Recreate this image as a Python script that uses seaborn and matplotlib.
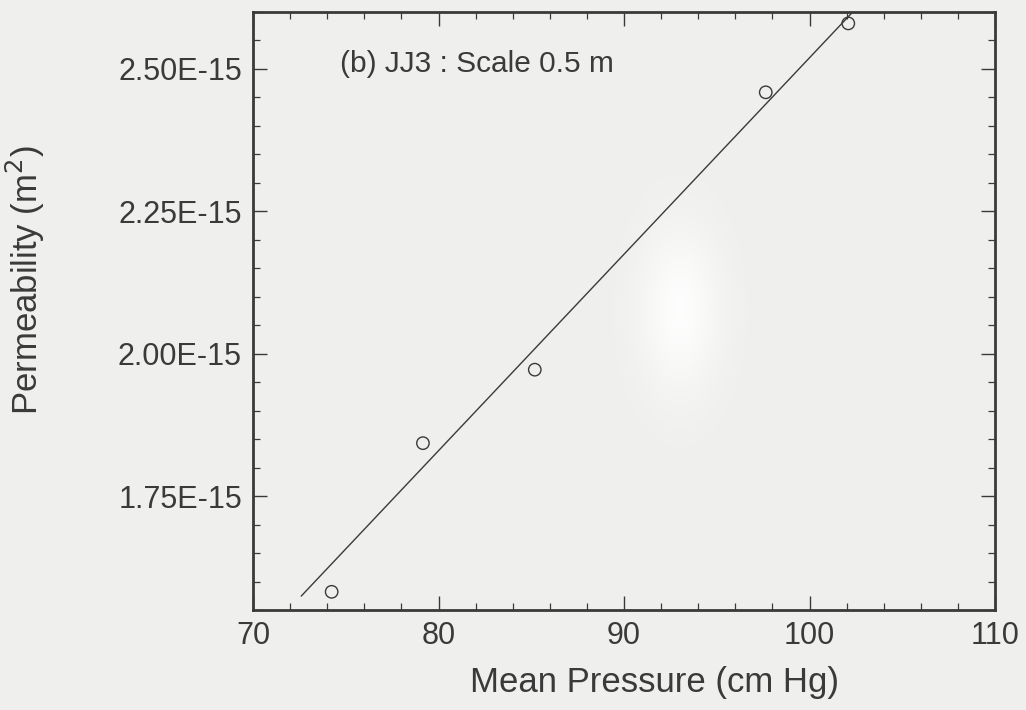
import numpy as np
import matplotlib
matplotlib.use("Agg")
import matplotlib.pyplot as plt
from matplotlib.ticker import MultipleLocator, FixedLocator, FuncFormatter
import seaborn as sns
import pandas as pd

# Measured permeability vs mean pressure, sample JJ3 (scale 0.5 m)
pressure = [74.24, 79.16, 85.19, 97.64, 102.09]
permeability = [1.582e-15, 1.843e-15, 1.972e-15, 2.459e-15, 2.580e-15]

# Fitted straight line (Klinkenberg plot)
fit_pressure = [72.6, 102.3]
fit_permeability = [1.5745e-15, 2.599e-15]

x_ticks = [70, 80, 90, 100, 110]
y_ticks = [1.75e-15, 2.00e-15, 2.25e-15, 2.50e-15]

panel_title = "(b) JJ3 : Scale 0.5 m"
x_label = "Mean Pressure (cm Hg)"
y_label = "Permeability (m$^2$)"

sns.set_theme(style="ticks")
plt.rcParams["font.family"] = ["Liberation Sans", "DejaVu Sans"]
ink = "#3a3a3a"
paper = "#efefed"

fig = plt.figure(figsize=(10.26, 7.10), dpi=100, facecolor=paper)
ax = fig.add_axes([0.2466, 0.1408, 0.7232, 0.8423], facecolor=paper)

# soft pale patch in the middle of the sheet
gx, gy = np.meshgrid(np.linspace(0, 1, 400), np.linspace(0, 1, 300))
blob = np.exp(-(((gx - 0.575) / 0.055) ** 2 + ((gy - 0.50) / 0.14) ** 2))
rgba = np.zeros(blob.shape + (4,))
rgba[..., :3] = 1.0
rgba[..., 3] = 0.9 * blob
ax.imshow(rgba, extent=[70, 110, 2.60e-15, 1.55e-15], aspect="auto", zorder=0,
          interpolation="bilinear")

df = pd.DataFrame({"p": pressure, "k": permeability})
fit = pd.DataFrame({"p": fit_pressure, "k": fit_permeability})

sns.lineplot(data=fit, x="p", y="k", ax=ax, color=ink, linewidth=1.0, zorder=2)
sns.scatterplot(data=df, x="p", y="k", ax=ax, marker="o", s=80,
                facecolors="none", edgecolor=ink, linewidth=1.0, zorder=3)

ax.set_xlim(70, 110)
ax.set_ylim(1.55e-15, 2.60e-15)
ax.xaxis.set_major_locator(FixedLocator(x_ticks))
ax.xaxis.set_minor_locator(MultipleLocator(2))
ax.yaxis.set_major_locator(FixedLocator(y_ticks))
ax.yaxis.set_minor_locator(MultipleLocator(0.05e-15))
ax.yaxis.set_major_formatter(FuncFormatter(lambda v, _: f"{v:.2E}"))

ax.tick_params(which="both", direction="in", top=True, right=True, color=ink,
               labelcolor=ink, labelsize=22)
ax.tick_params(which="major", length=10, width=1.0, pad=8)
ax.tick_params(which="minor", length=5, width=0.9)
for s in ax.spines.values():
    s.set_linewidth(2.0)
    s.set_color(ink)

ax.set_xlabel(x_label, fontsize=25, color=ink)
ax.xaxis.set_label_coords(0.5405, -0.094)
ax.set_ylabel(y_label, fontsize=25, color=ink)
ax.yaxis.set_label_coords(-0.278, 0.552)
ax.text(0.117, 0.913, panel_title, transform=ax.transAxes, fontsize=21.5,
        color=ink, va="center", ha="left")

fig.savefig("out.png", dpi=100, facecolor=paper)
